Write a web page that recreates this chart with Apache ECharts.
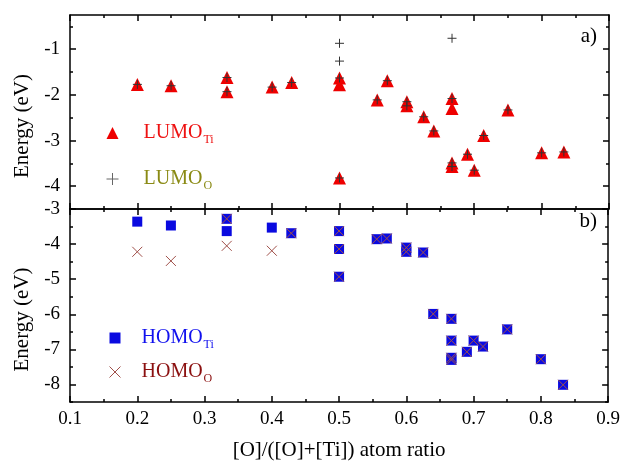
<!DOCTYPE html>
<html>
<head>
<meta charset="utf-8">
<script src="https://cdn.jsdelivr.net/npm/echarts@6/dist/echarts.min.js"></script>
<style>
  html, body { margin: 0; padding: 0; background: #fff; }
  #chart { width: 623px; height: 464px; }
</style>
</head>
<body>
<div id="chart"></div>
<script>
// [x ratio, energy eV]
var lumoTi = [
  [0.2, -1.77], [0.25, -1.80], [0.333, -1.62], [0.333, -1.93], [0.4, -1.83], [0.429, -1.73],
  [0.5, -1.63], [0.5, -1.78], [0.5, -3.82], [0.556, -2.11], [0.571, -1.69],
  [0.6, -2.15], [0.6, -2.24], [0.625, -2.48], [0.64, -2.79],
  [0.667, -2.08], [0.667, -2.30], [0.667, -3.49], [0.667, -3.57],
  [0.69, -3.30], [0.7, -3.65], [0.714, -2.89], [0.75, -2.33], [0.8, -3.27], [0.833, -3.25]
];
var lumoO = [
  [0.2, -1.77], [0.25, -1.80], [0.333, -1.62], [0.333, -1.93], [0.4, -1.83], [0.429, -1.73],
  [0.5, -0.87], [0.5, -1.26], [0.5, -1.63], [0.5, -3.82], [0.556, -2.11], [0.571, -1.69],
  [0.6, -2.15], [0.6, -2.24], [0.625, -2.48], [0.64, -2.79],
  [0.667, -0.76], [0.667, -2.08], [0.667, -3.49], [0.667, -3.57],
  [0.69, -3.30], [0.7, -3.65], [0.714, -2.89], [0.75, -2.33], [0.8, -3.27], [0.833, -3.25]
];
var homoTi = [
  [0.2, -3.36], [0.25, -3.47], [0.333, -3.28], [0.333, -3.63], [0.4, -3.53], [0.429, -3.69],
  [0.5, -3.63], [0.5, -4.14], [0.5, -4.93], [0.556, -3.86], [0.571, -3.84],
  [0.6, -4.10], [0.6, -4.22], [0.625, -4.24], [0.64, -5.99],
  [0.667, -6.13], [0.667, -6.75], [0.667, -7.24], [0.667, -7.30],
  [0.69, -7.07], [0.7, -6.75], [0.714, -6.92], [0.75, -6.43], [0.8, -7.28], [0.833, -8.01]
];
var homoO = [
  [0.2, -4.22], [0.25, -4.48], [0.333, -4.05], [0.4, -4.19], [0.333, -3.28], [0.429, -3.69],
  [0.5, -3.63], [0.5, -4.14], [0.5, -4.93], [0.556, -3.86], [0.571, -3.84],
  [0.6, -4.10], [0.6, -4.22], [0.625, -4.24], [0.64, -5.99],
  [0.667, -6.13], [0.667, -6.75], [0.667, -7.24], [0.667, -7.30],
  [0.69, -7.07], [0.7, -6.75], [0.714, -6.92], [0.75, -6.43], [0.8, -7.28], [0.833, -8.01]
];

var topMajor = [-4, -3, -2, -1];
var topMinor = [-4.5, -3.5, -2.5, -1.5, -0.5];
var botMajor = [-8, -7, -6, -5, -4, -3];
var botMinor = [-8.5, -7.5, -6.5, -5.5, -4.5, -3.5];

var font = "'Liberation Serif', 'DejaVu Serif', serif";
var black = "#000";

function xAx(grid, pos, labels) {
  return {
    type: "value", gridIndex: grid, position: pos,
    min: 0.1, max: 0.9, interval: 0.1,
    axisLine: { lineStyle: { color: black, width: 1.5 } },
    axisTick: { show: true, inside: true, length: 6, lineStyle: { color: black, width: 1.5 } },
    minorTick: { show: true, splitNumber: 2, length: 3, lineStyle: { color: black, width: 1.5 } },
    axisLabel: { show: labels, color: black, fontFamily: font, fontSize: 19, margin: 8 },
    splitLine: { show: false },
    minorSplitLine: { show: false },
  };
}

function yAx(grid, pos, min, max, ticks, len, labels, line) {
  return {
    type: "value", gridIndex: grid, position: pos,
    min: min, max: max,
    axisLine: { show: line, onZero: false, lineStyle: { color: black, width: 1.5 } },
    axisTick: { show: true, inside: true, length: len, customValues: ticks, lineStyle: { color: black, width: 1.5 } },
    axisLabel: { show: !!labels, customValues: labels || ticks, color: black, fontFamily: font, fontSize: 19, margin: 10 },
    splitLine: { show: false },
  };
}

var yTop = yAx(0, "left", -4.5, -0.25, topMajor, 6, topMajor, true);
yTop.name = "Energy (eV)";
yTop.nameLocation = "middle";
yTop.nameGap = 37;
yTop.nameTextStyle = { color: black, fontFamily: font, fontSize: 21, padding: [0, 28, 0, 0] };
var yBot = yAx(1, "left", -8.5, -3, botMajor, 6, botMajor, true);
yBot.name = "Energy (eV)";
yBot.nameLocation = "middle";
yBot.nameGap = 37;
yBot.nameTextStyle = { color: black, fontFamily: font, fontSize: 21, padding: [0, 28, 0, 0] };

var xBot = xAx(1, "bottom", true);
xBot.name = "[O]/([O]+[Ti]) atom ratio";
xBot.nameLocation = "middle";
xBot.nameGap = 38;
xBot.nameTextStyle = { color: black, fontFamily: font, fontSize: 21 };

function richPair(color, pad) {
  return [
    { color: color, fontFamily: font, fontSize: 20, lineHeight: 24, padding: [0, 0, 0, pad] },
    { color: color, fontFamily: font, fontSize: 12, lineHeight: 24, padding: [14, 0, 0, 1] },
  ];
}
var legendRich = {};
[["lt", "#ee1111", 20], ["lo", "#8a8a14", 20], ["ht", "#1111ee", 16], ["ho", "#8b1010", 16]].forEach(function (d) {
  var p = richPair(d[1], d[2]);
  legendRich[d[0]] = p[0];
  legendRich[d[0] + "s"] = p[1];
});
var legendKey = { LUMO_Ti: "lt", LUMO_O: "lo", HOMO_Ti: "ht", HOMO_O: "ho" };
function legendFmt(name) {
  var p = name.split("_");
  var k = legendKey[name];
  return "{" + k + "|" + p[0] + "}{" + k + "s|" + p[1] + "}";
}

var plusPath = "path://M0,5L10,5M5,0L5,10";
var crossPath = "path://M0,0L10,10M10,0L0,10";

var myChart = echarts.init(document.getElementById("chart"));
var option = {
  animation: false,
  backgroundColor: "#fff",
  grid: [
    { left: 70, right: 14, top: 15, height: 194 },
    { left: 70, right: 14, top: 209, height: 193 },
  ],
  xAxis: [xAx(0, "bottom", false), xAx(0, "top", false), xBot, xAx(1, "top", false)],
  yAxis: [
    yTop,
    yAx(0, "left", -4.5, -0.25, topMinor, 3, null, false),
    yAx(0, "right", -4.5, -0.25, topMajor, 6, null, true),
    yAx(0, "right", -4.5, -0.25, topMinor, 3, null, false),
    yBot,
    yAx(1, "left", -8.5, -3, botMinor, 3, null, false),
    yAx(1, "right", -8.5, -3, botMajor, 6, null, true),
    yAx(1, "right", -8.5, -3, botMinor, 3, null, false),
  ],
  legend: [
    {
      data: ["LUMO_Ti", { name: "LUMO_O", itemStyle: { borderColor: "#666", borderWidth: 1 } }],
      orient: "vertical", left: 101, top: 115,
      itemWidth: 12, itemHeight: 12, itemGap: 20, selectedMode: false,
      formatter: legendFmt, textStyle: { rich: legendRich },
    },
    {
      data: ["HOMO_Ti", { name: "HOMO_O", itemStyle: { borderColor: "#a0504a", borderWidth: 1 } }],
      orient: "vertical", left: 104, top: 320,
      itemWidth: 11, itemHeight: 11, itemGap: 8, selectedMode: false,
      formatter: legendFmt, textStyle: { rich: legendRich },
    },
  ],
  graphic: [
    { type: "text", right: 26, top: 26, style: { text: "a)", fill: black, font: "21px " + font } },
    { type: "text", right: 26, top: 211, style: { text: "b)", fill: black, font: "21px " + font } },
  ],
  series: [
    {
      name: "LUMO_Ti", type: "scatter", xAxisIndex: 0, yAxisIndex: 0, data: lumoTi,
      symbol: "triangle", symbolSize: 13, itemStyle: { color: "#ee0000", opacity: 1 },
    },
    {
      name: "LUMO_O", type: "scatter", xAxisIndex: 0, yAxisIndex: 0, data: lumoO,
      symbol: plusPath, symbolSize: 9,
      itemStyle: { color: "transparent", borderColor: "#333", borderWidth: 1, opacity: 1 },
    },
    {
      name: "HOMO_Ti", type: "scatter", xAxisIndex: 2, yAxisIndex: 4, data: homoTi,
      symbol: "rect", symbolSize: 10, itemStyle: { color: "#0a0ae0", opacity: 1 },
    },
    {
      name: "HOMO_O", type: "scatter", xAxisIndex: 2, yAxisIndex: 4, data: homoO,
      symbol: crossPath, symbolSize: 10,
      itemStyle: { color: "transparent", borderColor: "#a0504a", borderWidth: 1, opacity: 1 },
    },
  ],
};
myChart.setOption(option);
window.addEventListener("resize", function () {
  myChart.resize();
});
</script>
</body>
</html>
